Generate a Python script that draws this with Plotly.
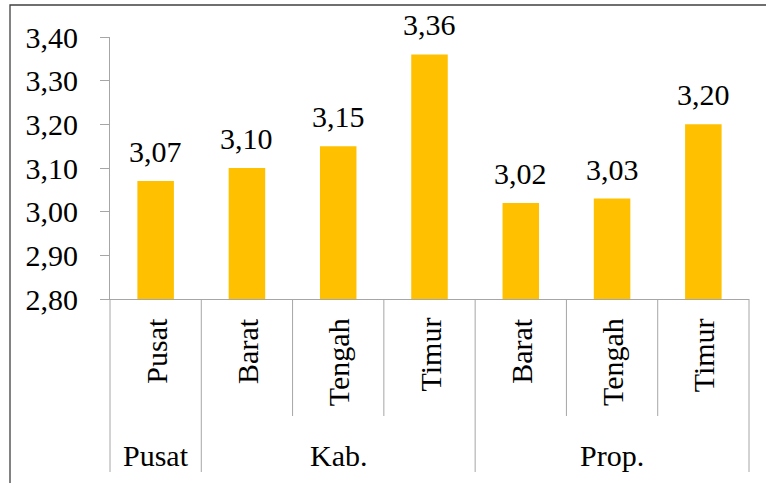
import plotly.graph_objects as go

# Data
groups = ["Pusat", "Kab.", "Kab.", "Kab.", "Prop.", "Prop.", "Prop."]
categories = ["Pusat", "Barat", "Tengah", "Timur", "Barat", "Tengah", "Timur"]
values = [3.07, 3.10, 3.15, 3.36, 3.02, 3.03, 3.20]
y_ticks = [2.80, 2.90, 3.00, 3.10, 3.20, 3.30, 3.40]

FONT = "Liberation Serif"
BAR = "#FFC000"
AX = "#A6A6A6"

W, H = 766, 483
ML, MR, MT, MB = 110, 17, 37, 184
PW = W - ML - MR
PH = H - MT - MB

n = len(categories)
xs = list(range(n))

fig = go.Figure(go.Bar(
    x=xs, y=values, marker=dict(color=BAR, line=dict(width=0)),
    width=0.4, hoverinfo="skip",
))

ann = []
# data labels
for i, v in zip(xs, values):
    ann.append(dict(x=i, y=v, xref="x", yref="y", text=f"{v:.2f}".replace(".", ","),
                    showarrow=False, xanchor="center", yanchor="bottom", yshift=11,
                    font=dict(family=FONT, size=30, color="black")))
# category labels (rotated)
for i, c in zip(xs, categories):
    ann.append(dict(x=(i + 0.5) / n, y=0, xref="paper", yref="paper", text=c,
                    textangle=-90, showarrow=False, xanchor="center", yanchor="top",
                    yshift=-17, font=dict(family=FONT, size=30, color="black")))

# group spans
spans = []
start = 0
for i in range(1, n + 1):
    if i == n or groups[i] != groups[start]:
        spans.append((groups[start], start, i))
        start = i
for g, a, b in spans:
    ann.append(dict(x=(a + b) / 2 / n, y=0, xref="paper", yref="paper", text=g,
                    showarrow=False, xanchor="center", yanchor="middle",
                    yshift=-156, font=dict(family=FONT, size=30, color="black")))

shapes = []
inner_y = -(416 - (H - MB)) / PH
group_y = -(472 - (H - MB)) / PH
group_bounds = set()
for g, a, b in spans:
    group_bounds.add(a)
    group_bounds.add(b)
for k in range(n + 1):
    y1 = group_y if k in group_bounds else inner_y
    shapes.append(dict(type="line", xref="paper", yref="paper", x0=k / n, x1=k / n,
                       y0=0, y1=y1, line=dict(color=AX, width=1)))
# outer chart border
shapes.append(dict(type="rect", xref="paper", yref="paper",
                   x0=(10 - ML) / PW, x1=(W + 20 - ML) / PW,
                   y0=-(H + 20 - (H - MB)) / PH, y1=((H - MB) - 5) / PH,
                   line=dict(color="#404040", width=1.3)))

fig.update_layout(
    width=W, height=H,
    margin=dict(l=ML, r=MR, t=MT, b=MB, pad=0),
    paper_bgcolor="white", plot_bgcolor="white",
    separators=",.",
    showlegend=False,
    bargap=0.6,
    font=dict(family=FONT, size=30, color="black"),
    xaxis=dict(range=[-0.5, n - 0.5], showticklabels=False, ticks="", showgrid=False,
               zeroline=False, showline=True, linecolor=AX, linewidth=1, fixedrange=True),
    yaxis=dict(range=[y_ticks[0], y_ticks[-1]], tickvals=y_ticks, tickformat=".2f",
               ticks="outside", ticklen=9, tickcolor=AX, tickwidth=1,
               showline=True, linecolor=AX, linewidth=1, showgrid=False, zeroline=False,
               ticklabelstandoff=16, tickfont=dict(family=FONT, size=30, color="black"),
               fixedrange=True),
    annotations=ann, shapes=shapes,
)

fig.write_html("out.html", config={"displayModeBar": False})
